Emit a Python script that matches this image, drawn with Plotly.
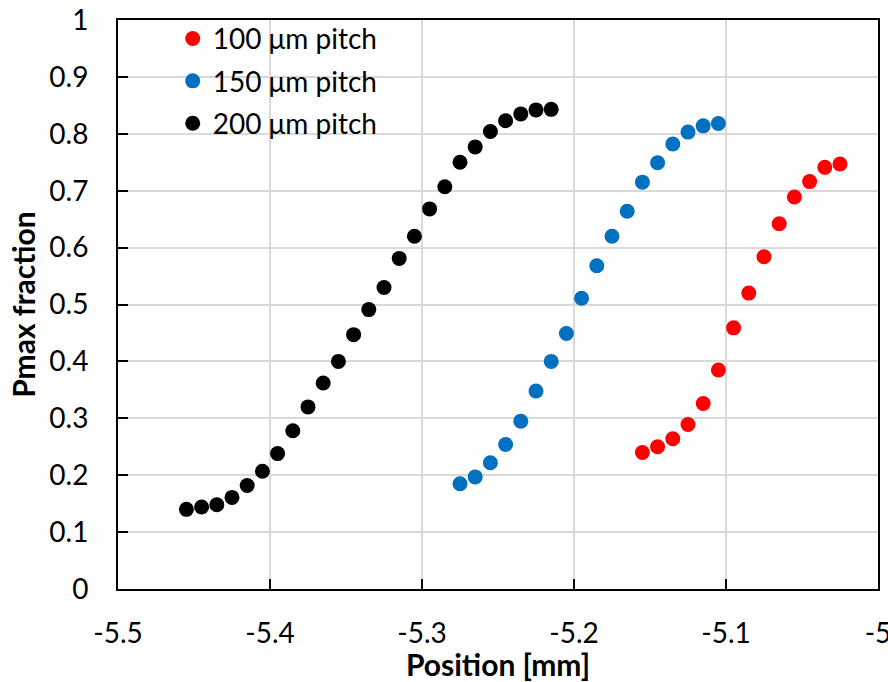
import plotly.graph_objects as go

# ---- data ----
x_100 = [-5.155, -5.145, -5.135, -5.125, -5.115, -5.105, -5.095, -5.085, -5.075,
         -5.065, -5.055, -5.045, -5.035, -5.025]
y_100 = [0.240, 0.250, 0.264, 0.289, 0.326, 0.385, 0.459, 0.520, 0.584,
         0.642, 0.689, 0.716, 0.741, 0.747]

x_150 = [-5.275, -5.265, -5.255, -5.245, -5.235, -5.225, -5.215, -5.205, -5.195,
         -5.185, -5.175, -5.165, -5.155, -5.145, -5.135, -5.125, -5.115, -5.105]
y_150 = [0.185, 0.197, 0.222, 0.254, 0.295, 0.348, 0.400, 0.449, 0.511,
         0.568, 0.620, 0.664, 0.715, 0.749, 0.782, 0.803, 0.814, 0.818]

x_200 = [-5.455, -5.445, -5.435, -5.425, -5.415, -5.405, -5.395, -5.385, -5.375,
         -5.365, -5.355, -5.345, -5.335, -5.325, -5.315, -5.305, -5.295, -5.285,
         -5.275, -5.265, -5.255, -5.245, -5.235, -5.225, -5.215]
y_200 = [0.140, 0.144, 0.148, 0.161, 0.182, 0.207, 0.238, 0.278, 0.320,
         0.362, 0.400, 0.447, 0.491, 0.530, 0.581, 0.620, 0.668, 0.707,
         0.750, 0.777, 0.804, 0.823, 0.835, 0.842, 0.843]

series_names = ["100 μm pitch", "150 μm pitch", "200 μm pitch"]
series_colors = ["#ff0000", "#0070c0", "#000000"]

x_tick_vals = [-5.5, -5.4, -5.3, -5.2, -5.1, -5.0]
x_tick_labels = ["-5.5", "-5.4", "-5.3", "-5.2", "-5.1", "-5"]
y_tick_vals = [0, 0.1, 0.2, 0.3, 0.4, 0.5, 0.6, 0.7, 0.8, 0.9, 1]
y_tick_labels = ["0", "0.1", "0.2", "0.3", "0.4", "0.5", "0.6", "0.7", "0.8", "0.9", "1"]

FONT = "Lato"

fig = go.Figure()
for i, (xs, ys) in enumerate([(x_100, y_100), (x_150, y_150), (x_200, y_200)]):
    fig.add_trace(go.Scatter(
        x=xs, y=ys, mode="markers", name=series_names[i],
        legendgroup=f"g{i}",
        marker=dict(color=series_colors[i], size=15, line=dict(width=0)),
    ))

axis_common = dict(
    showline=True, linecolor="black", linewidth=2, mirror=True,
    showgrid=True, gridcolor="#d9d9d9", gridwidth=1.5,
    ticks="inside", ticklen=10, tickwidth=2, tickcolor="black",
    zeroline=False, automargin=False, ticklabeloverflow="allow",
    tickfont=dict(family=FONT, size=28, color="black"),
)

fig.update_layout(
    width=888, height=682,
    margin=dict(l=118, r=10, t=20, b=93),
    plot_bgcolor="white", paper_bgcolor="white",
    font=dict(family=FONT, size=28, color="black"),
    xaxis=dict(range=[-5.5, -5.0], tickvals=x_tick_vals, ticktext=x_tick_labels,
               ticklabelstandoff=18,
               title=dict(text="<b>Position [mm]</b>", font=dict(family=FONT, size=30),
                          standoff=2),
               **axis_common),
    yaxis=dict(range=[0, 1], tickvals=y_tick_vals, ticktext=y_tick_labels,
               ticklabelstandoff=22,
               title=dict(text="<b>Pmax fraction</b>", font=dict(family=FONT, size=30),
                          standoff=5),
               **axis_common),
    legend=dict(x=0.072, y=1.011, xanchor="left", yanchor="top",
                bgcolor="rgba(0,0,0,0)", tracegroupgap=3,
                font=dict(family=FONT, size=28, color="black")),
    showlegend=True,
)

fig.write_html("out.html")
